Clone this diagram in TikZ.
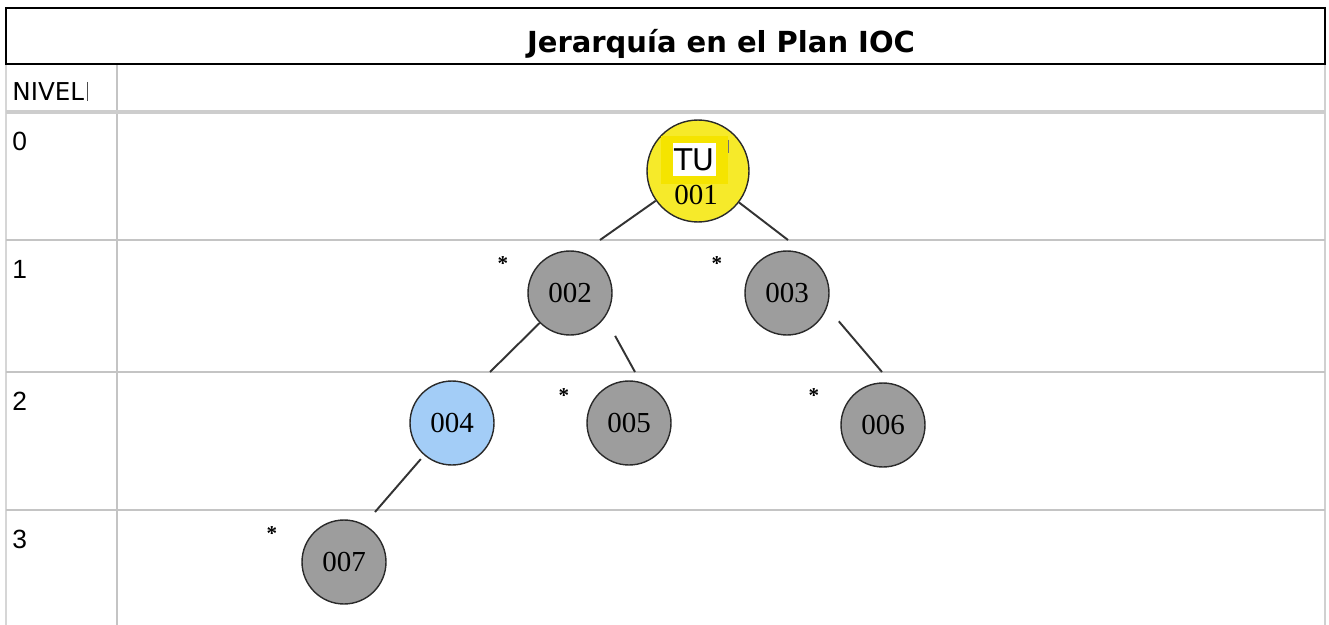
\documentclass[tikz,border=0pt]{standalone}
\usepackage{fontspec}
\setmainfont{Liberation Serif}
\newfontfamily\dejavuf{DejaVu Sans}
\newfontfamily\arialf{Liberation Sans}
\newfontfamily\timesf{Liberation Serif}
\definecolor{gridgray}{HTML}{C4C4C4}
\definecolor{nodegray}{HTML}{9D9D9D}
\definecolor{nodeblue}{HTML}{A3CDF7}
\definecolor{nodeyellow}{HTML}{F6EA2A}
\definecolor{tuyellow}{HTML}{F5E400}
\definecolor{borderdark}{HTML}{2A2A2A}
\definecolor{edgecol}{HTML}{333333}
\tikzset{
  gridline/.style={draw=gridgray, line width=1.1pt},
  tnode/.style={circle, draw=borderdark, line width=0.8pt, minimum size=1.68cm, inner sep=0pt,
    font=\timesf\fontsize{16.5}{18}\selectfont},
  graynode/.style={tnode, fill=nodegray},
  bluenode/.style={tnode, fill=nodeblue},
  edgeline/.style={draw=edgecol, line width=1.1pt},
  starmark/.style={font=\timesf\bfseries\fontsize{12}{12}\selectfont, inner sep=0pt, anchor=north},
  lvl/.style={anchor=north west, inner sep=0pt, font=\arialf\fontsize{15}{15}\selectfont}
}
\begin{document}
\begin{tikzpicture}[x=0.02cm,y=-0.02cm]
\useasboundingbox[fill=white] (0,0) rectangle (1329,625);
% table grid
\draw[gridline, line width=0.6pt, draw=gridgray!70] (6,63) -- (6,625);
\draw[gridline, line width=1.6pt, draw=gridgray!80] (1325,63) -- (1325,625);
\draw[gridline] (117,63) -- (117,625);
\draw[gridline, line width=2pt, draw=gridgray!85] (6,112) -- (1325,112);
\draw[gridline] (6,240) -- (1325,240);
\draw[gridline] (6,372) -- (1325,372);
\draw[gridline] (6,510) -- (1325,510);
% title
\node[draw=black, line width=1.1pt, minimum width=26.38cm, minimum height=1.12cm, inner sep=0pt,
  anchor=north west] (titlebox) at (5,7) {};
\node[font=\dejavuf\bfseries\fontsize{16.5}{18}\selectfont, inner sep=0pt] (title) at (721,44) {Jerarqu\'ia en el Plan IOC};
% level labels
\node[lvl, font=\dejavuf\fontsize{14}{14}\selectfont] (nivel) at (12,82) {NIVEL};
\draw[draw=black!70, line width=0.5pt] (nivel.north east) ++(3,0) -- ++(0,19);
\node[lvl] (l0) at (12,132) {0};
\node[lvl] (l1) at (12,260) {1};
\node[lvl] (l2) at (12,392) {2};
\node[lvl] (l3) at (12,530) {3};
% tree nodes
\node[tnode, fill=nodeyellow, minimum size=2.04cm] (n001) at (698,171) {};
\node[inner sep=0pt, font=\timesf\fontsize{16.5}{18}\selectfont] (t001) at (696,195) {001};
\node[fill=tuyellow, minimum width=1.34cm, minimum height=0.96cm, inner sep=0pt] (tubg) at (694.5,160) {};
\node[fill=white, minimum width=0.86cm, minimum height=0.66cm, inner sep=0pt,
  font=\dejavuf\fontsize{17}{17}\selectfont] (tu) at (694.5,159.5) {TU};
\draw[draw=black!55, line width=0.5pt] (tubg.north east) ++(0,4) -- ++(0,13);
\node[graynode] (n002) at (570,293) {002};
\node[graynode] (n003) at (787,293) {003};
\node[bluenode] (n004) at (452,423) {004};
\node[graynode] (n005) at (629,423) {005};
\node[graynode] (n006) at (883,425) {006};
\node[graynode] (n007) at (344,562) {007};
% stars
\node[starmark] (s002) at (503,256) {*};
\node[starmark] (s003) at (717,256) {*};
\node[starmark] (s005) at (564,388) {*};
\node[starmark] (s006) at (814,388) {*};
\node[starmark] (s007) at (272,526) {*};
% edge ends on the row lines
\coordinate (c12) at (600,240);
\coordinate (c13) at (788,240);
\coordinate (c24) at (490,372);
\coordinate (c25) at (635,372);
\coordinate (c36) at (882,372);
\coordinate (c47) at (375,512);
\draw[edgeline] (n001) -- (c12);
\draw[edgeline] (n001) -- (c13);
\draw[edgeline] (n002) -- (c24);
\draw[edgeline, shorten <=0.42cm] (n002.-35.5) -- (c25);
\draw[edgeline, shorten <=0.36cm] (n003.-20) -- (c36);
\draw[edgeline, shorten <=0.1cm] (n004) -- (c47);
\end{tikzpicture}
\end{document}
